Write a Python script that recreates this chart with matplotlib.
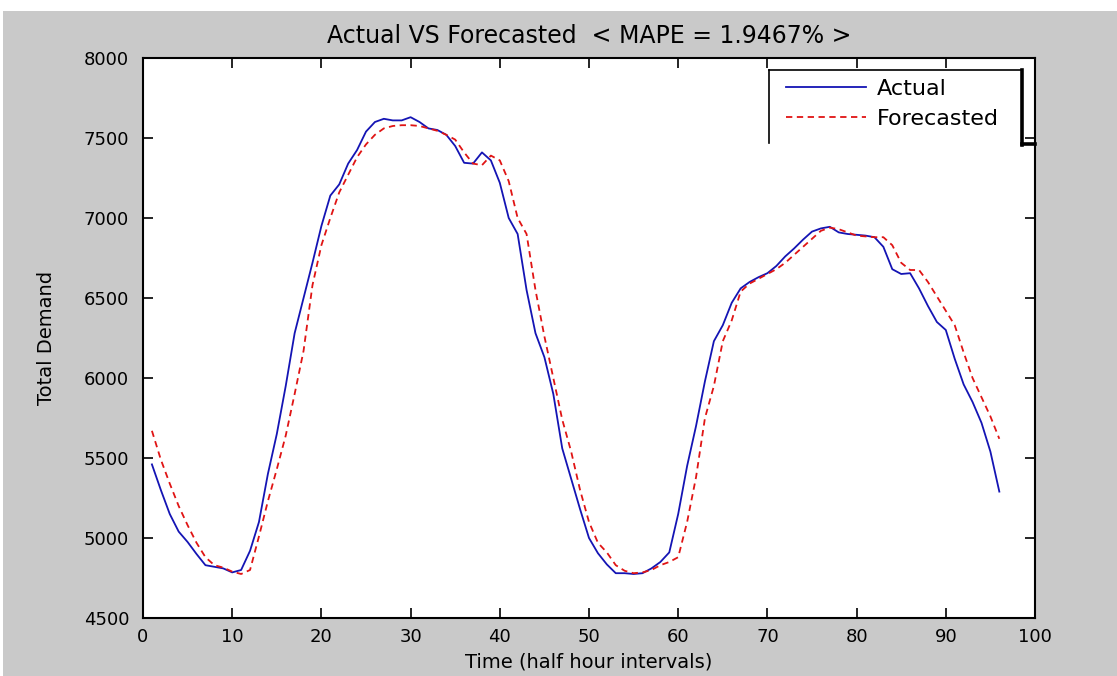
import matplotlib
matplotlib.use("Agg")
import matplotlib.pyplot as plt
from matplotlib.lines import Line2D
from matplotlib.patches import Rectangle

# ---------------- data ----------------
time_steps = list(range(1, 97))
actual = [5460, 5300, 5150, 5040, 4975, 4900, 4830, 4820, 4810, 4785,
          4800, 4920, 5100, 5400, 5650, 5950, 6280, 6500, 6720, 6950,
          7140, 7210, 7340, 7425, 7540, 7600, 7620, 7610, 7610, 7630,
          7600, 7560, 7550, 7520, 7450, 7345, 7340, 7410, 7360, 7220,
          7000, 6900, 6550, 6280, 6130, 5900, 5560, 5370, 5180, 5000,
          4905, 4835, 4780, 4780, 4775, 4780, 4810, 4850, 4910, 5150,
          5450, 5700, 5980, 6230, 6330, 6470, 6560, 6600, 6630, 6655,
          6700, 6760, 6810, 6865, 6915, 6935, 6945, 6910, 6900, 6895,
          6890, 6880, 6820, 6680, 6650, 6655, 6560, 6450, 6350, 6300,
          6120, 5960, 5850, 5720, 5540, 5290]
forecasted = [5670, 5490, 5340, 5200, 5080, 4970, 4880, 4830, 4815, 4790,
              4775, 4800, 5010, 5230, 5430, 5640, 5900, 6170, 6580, 6830,
              7000, 7160, 7270, 7380, 7460, 7520, 7560, 7575, 7580, 7580,
              7575, 7560, 7545, 7520, 7490, 7410, 7340, 7330, 7390, 7360,
              7230, 7000, 6900, 6550, 6260, 6000, 5740, 5540, 5300, 5100,
              4970, 4910, 4830, 4795, 4780, 4785, 4800, 4830, 4850, 4880,
              5100, 5380, 5750, 5950, 6230, 6360, 6540, 6590, 6620, 6650,
              6680, 6720, 6770, 6820, 6870, 6920, 6940, 6930, 6910, 6890,
              6885, 6880, 6880, 6830, 6720, 6675, 6675, 6600, 6510, 6420,
              6330, 6160, 6000, 5880, 5760, 5620]
x_ticks = list(range(0, 101, 10))
y_ticks = list(range(4500, 8001, 500))
series_names = ["Actual", "Forecasted"]
title_text = "Actual VS Forecasted  < MAPE = 1.9467% >"
x_label = "Time (half hour intervals)"
y_label = "Total Demand"

# ---------------- figure ----------------
W, H = 1117, 676
fig = plt.figure(figsize=(W / 100, H / 100), dpi=100, facecolor="white")
plt.rcParams["font.family"] = ["DejaVu Sans"]

def fx(px):
    return px / W

def fy(py):
    return 1 - py / H

# grey window background (white strip at top/left like the screenshot)
bg = Rectangle((fx(3), 0), 1 - fx(3), fy(11), facecolor="#c9c9c9",
               edgecolor="none", transform=fig.transFigure)
bg.set_zorder(-10)
fig.add_artist(bg)

ax = fig.add_axes([fx(143), fy(618), fx(1035) - fx(143), fy(58) - fy(618)])
ax.set_facecolor("white")

blue = "#1414b4"
red = "#e01414"
ax.plot(time_steps, actual, color=blue, lw=1.3, label=series_names[0])
ax.plot(time_steps, forecasted, color=red, lw=1.3, ls=(0, (3.5, 2.5)),
        label=series_names[1])

ax.set_xlim(0, 100)
ax.set_ylim(4500, 8000)
ax.set_xticks(x_ticks)
ax.set_yticks(y_ticks)
ax.tick_params(direction="in", length=7, width=1.2, top=True, right=True,
               labelsize=13, colors="black")
ax.tick_params(axis="y", pad=10)
ax.tick_params(axis="x", pad=7)
for s in ax.spines.values():
    s.set_linewidth(1.5)
    s.set_color("black")

ax.set_title(title_text, fontsize=17, pad=11)
ax.set_xlabel(x_label, fontsize=14, labelpad=5)
ax.set_ylabel(y_label, fontsize=14, labelpad=20)

# legend box drawn manually to mimic the screenshot (bottom edge missing)
tf = fig.transFigure
ax.add_artist(Rectangle((fx(769), fy(143)), fx(1022) - fx(769), fy(70) - fy(143),
                        facecolor="white", edgecolor="none", zorder=3,
                        transform=tf, clip_on=False))
for xs, ys, lw in [([769, 769], [143, 70], 1.2),
                   ([769, 1022], [70, 70], 1.2),
                   ([1022, 1022], [70, 145], 2.6),
                   ([1022, 1035], [144, 144], 2.6)]:
    ax.add_artist(Line2D([fx(v) for v in xs], [fy(v) for v in ys], color="black",
                         lw=lw, transform=tf, clip_on=False, zorder=4))

handles = [Line2D([0], [0], color=blue, lw=1.3),
           Line2D([0], [0], color=red, lw=1.3, ls=(0, (3.5, 2.5)))]
leg = ax.legend(handles, series_names, loc="upper left",
                bbox_to_anchor=(fx(786), fy(79)), bbox_transform=tf,
                frameon=False, fontsize=16, handlelength=3.6, handletextpad=0.5,
                labelspacing=0.45, borderaxespad=0, borderpad=0)
leg.set_zorder(6)

fig.savefig("out.png", dpi=100, facecolor=fig.get_facecolor())
